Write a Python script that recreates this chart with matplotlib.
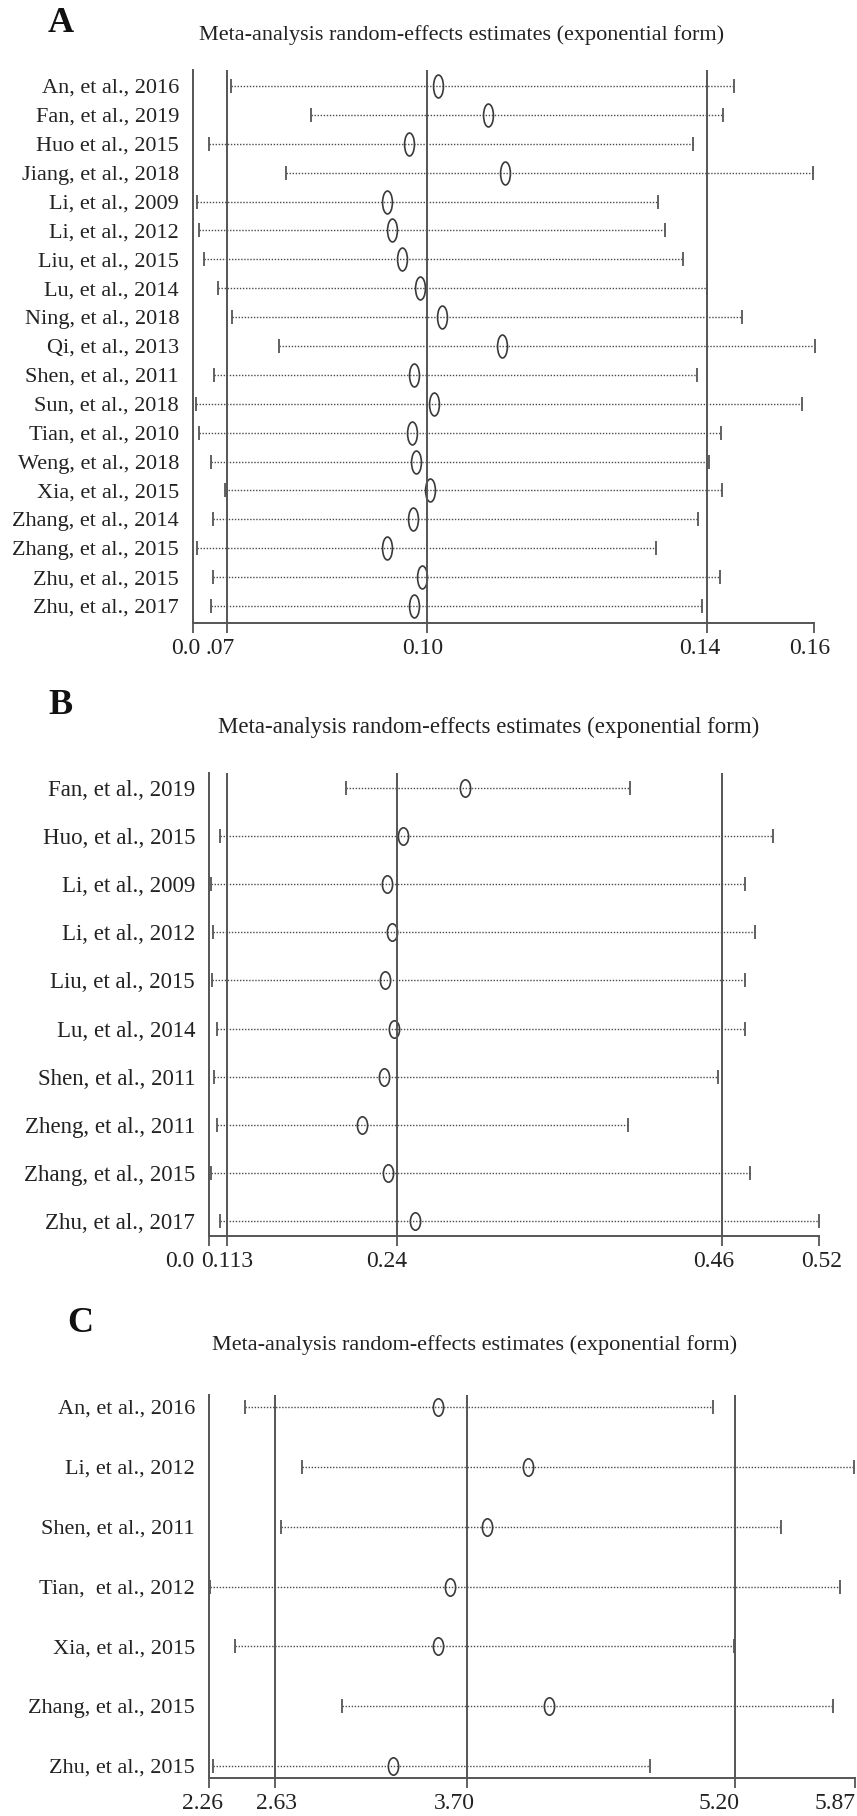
import numpy as np
import matplotlib
matplotlib.use('Agg')
import matplotlib.pyplot as plt
from matplotlib.path import Path
from matplotlib.transforms import Affine2D, ScaledTranslation

plt.rcParams['font.family'] = ['Liberation Serif', 'DejaVu Serif']

TITLE = 'Meta-analysis random-effects estimates (exponential form)'

# ---- panel A ----
a_studies = ['An, et al., 2016', 'Fan, et al., 2019', 'Huo et al., 2015', 'Jiang, et al., 2018',
             'Li, et al., 2009', 'Li, et al., 2012', 'Liu, et al., 2015', 'Lu, et al., 2014',
             'Ning, et al., 2018', 'Qi, et al., 2013', 'Shen, et al., 2011', 'Sun, et al., 2018',
             'Tian, et al., 2010', 'Weng, et al., 2018', 'Xia, et al., 2015', 'Zhang, et al., 2014',
             'Zhang, et al., 2015', 'Zhu, et al., 2015', 'Zhu, et al., 2017']
a_est = [0.1016, 0.1087, 0.0974, 0.1111, 0.0943, 0.0950, 0.0964, 0.0990, 0.1021, 0.1107,
         0.0981, 0.1010, 0.0979, 0.0984, 0.1004, 0.0980, 0.0943, 0.0993, 0.0981]
a_low = [0.0720, 0.0834, 0.0689, 0.0799, 0.0671, 0.0674, 0.0681, 0.0701, 0.0721, 0.0789,
         0.0696, 0.0670, 0.0674, 0.0691, 0.0711, 0.0694, 0.0671, 0.0694, 0.0691]
a_high = [0.1439, 0.1423, 0.1380, 0.1551, 0.1330, 0.1340, 0.1366, 0.1400, 0.1450, 0.1554,
          0.1386, 0.1536, 0.1420, 0.1403, 0.1421, 0.1387, 0.1327, 0.1419, 0.1393]
a_ticks = [0.0666, 0.0714, 0.10, 0.14, 0.1553]
a_ticklabels = ['0.0', '.07', '0.10', '0.14', '0.16']

# ---- panel B ----
b_studies = ['Fan, et al., 2019', 'Huo, et al., 2015', 'Li, et al., 2009', 'Li, et al., 2012',
             'Liu, et al., 2015', 'Lu, et al., 2014', 'Shen, et al., 2011', 'Zheng, et al., 2011',
             'Zhang, et al., 2015', 'Zhu, et al., 2017']
b_est = [0.2860, 0.2441, 0.2332, 0.2366, 0.2319, 0.2380, 0.2312, 0.2163, 0.2339, 0.2522]
b_low = [0.2055, 0.1202, 0.1141, 0.1154, 0.1147, 0.1181, 0.1161, 0.1181, 0.1141, 0.1202]
b_high = [0.3977, 0.4946, 0.4756, 0.4824, 0.4756, 0.4756, 0.4573, 0.3964, 0.4790, 0.5257]
b_ticks = [0.1127, 0.1249, 0.24, 0.46, 0.5257]
b_ticklabels = ['0.0', '0.113', '0.24', '0.46', '0.52']

# ---- panel C ----
c_studies = ['An, et al., 2016', 'Li, et al., 2012', 'Shen, et al., 2011', 'Tian,  et al., 2012',
             'Xia, et al., 2015', 'Zhang, et al., 2015', 'Zhu, et al., 2015']
c_est = [3.538, 4.041, 3.812, 3.605, 3.538, 4.159, 3.286]
c_low = [2.463, 2.782, 2.665, 2.267, 2.407, 3.006, 2.284]
c_high = [5.077, 5.866, 5.457, 5.787, 5.194, 5.748, 4.724]
c_ticks = [2.26, 2.63, 3.70, 5.20, 5.87]
c_ticklabels = ['2.26', '2.63', '3.70', '5.20', '5.87']

W, H = 857, 1816
GRAY = '#555555'
TXT = '#222222'

fig = plt.figure(figsize=(W / 100, H / 100), dpi=100)
fig.patch.set_facecolor('white')

circle = Path.unit_circle()


def ellipse(aspect):
    return Path(Affine2D().scale(aspect, 1).transform(circle.vertices), circle.codes)


def panel(box, letter, letter_xy, title_xy, studies, est, low, high, ticks, labels,
          pad_top, pad_bot, ell_aspect, ell_size, label_shift, fs=16):
    l, t, r, b = box
    ax = fig.add_axes([l / W, 1 - b / H, (r - l) / W, (b - t) / H])
    n = len(studies)
    y = np.arange(n)
    mk = ellipse(ell_aspect)
    for i in range(n):
        # dotted CI line, end caps, hollow ellipse at the estimate
        ax.plot([low[i], high[i]], [y[i], y[i]], ls=(0, (1, 1.2)), lw=1.0, color='#4a4a4a')
        ax.plot([low[i], high[i]], [y[i], y[i]], ls='none', marker='|', ms=10, mew=1.3,
                color=GRAY, clip_on=False)
        ax.plot(est[i], y[i], ls='none', marker=mk, ms=ell_size, mew=1.2, mfc='none',
                mec='#3a3a3a', clip_on=False)
    for x in ticks[1:4]:
        ax.axvline(x, color=GRAY, lw=1.4)
    ax.set_xlim(ticks[0], ticks[-1])
    ax.set_ylim(n - 1 + pad_bot, -pad_top)
    ax.set_yticks(y)
    ax.set_yticklabels(studies, fontsize=fs, color=TXT)
    ax.tick_params(axis='y', length=0, pad=10)
    ax.set_xticks(ticks)
    ax.set_xticklabels(labels, fontsize=17, color=TXT)
    ax.tick_params(axis='x', direction='out', length=7, width=1.3, color=GRAY, pad=4)
    for lab, dx in zip(ax.get_xticklabels(), label_shift):
        lab.set_transform(lab.get_transform() + ScaledTranslation(dx / 100, 0, fig.dpi_scale_trans))
    for s in ['top', 'right']:
        ax.spines[s].set_visible(False)
    for s in ['left', 'bottom']:
        ax.spines[s].set_color(GRAY)
        ax.spines[s].set_linewidth(1.4)
    fig.text(letter_xy[0] / W, 1 - letter_xy[1] / H, letter, fontsize=26, fontweight='bold',
             ha='center', va='center', color='#111111')
    fig.text(title_xy[0] / W, 1 - title_xy[1] / H, TITLE, fontsize=fs, ha='center',
             va='center', color=TXT)
    return ax


panel((193, 70, 814, 623), 'A', (61, 23), (462, 35), a_studies, a_est, a_low, a_high,
      a_ticks, a_ticklabels, 0.554, 0.59, 0.43, 16.5, [-7, -6, -4, -7, -4])

panel((209, 773, 819, 1236), 'B', (61, 705), (489, 727), b_studies, b_est, b_low, b_high,
      b_ticks, b_ticklabels, 0.31, 0.31, 0.59, 12.5, [-29, 0, -10, -8, 3], fs=16.5)

panel((209, 1395, 855, 1778), 'C', (80, 1324), (475, 1345), c_studies, c_est, c_low, c_high,
      c_ticks, c_ticklabels, 0.2, 0.2, 0.59, 12.5, [-6, 1, -12, -16, -20])

fig.savefig('out.png', dpi=100, facecolor='white')
